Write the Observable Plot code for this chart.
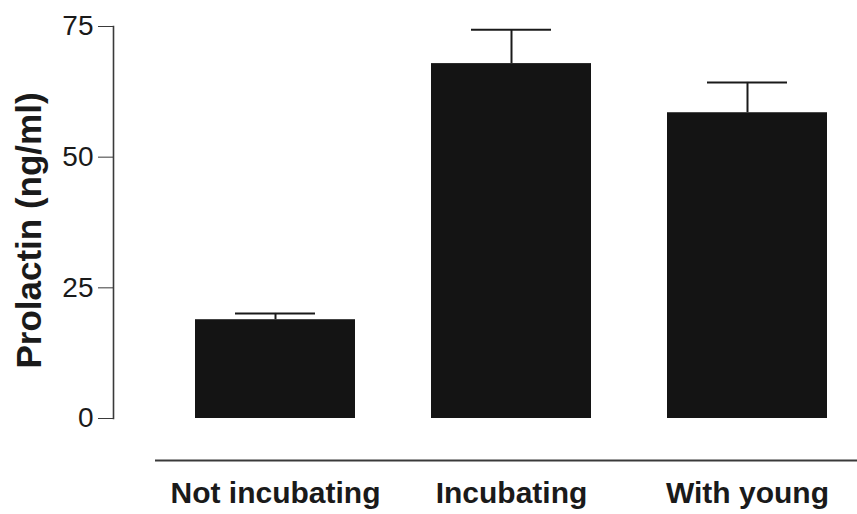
<!DOCTYPE html>
<html>
<head>
<meta charset="utf-8">
<script src="https://cdn.jsdelivr.net/npm/d3@7"></script>
<script src="https://cdn.jsdelivr.net/npm/@observablehq/plot@0.6"></script>
<style>
  html, body { margin: 0; padding: 0; background: #fff; }
  #chart svg { display: block; }
</style>
</head>
<body>
<div id="chart"></div>
<script>
// Plasma prolactin by breeding state (mean ± SEM)
const categories = ["Not incubating", "Incubating", "With young"];
const means = [18.9, 67.9, 58.5];
const sems = [1.2, 6.5, 5.8];
const yTicks = [0, 25, 50, 75];
const yLabel = "Prolactin (ng/ml)";

const rows = categories.map((group, i) => ({
  group,
  mean: means[i],
  upper: means[i] + sems[i]
}));

const font = "'Liberation Sans', Arial, Helvetica, sans-serif";
const ink = "#1a1a1a";
const axisInk = "#3a3a3a";

const chart = Plot.plot({
  width: 857,
  height: 514,
  marginLeft: 113,
  marginRight: 0,
  marginTop: 26,
  marginBottom: 96,
  style: { fontFamily: font, background: "#fff", color: ink },
  x: { domain: categories, range: [171, 852], paddingInner: 0.32, paddingOuter: 0.1 },
  y: { domain: [0, 75] },
  marks: [
    // y axis line
    Plot.frame({ anchor: "left", stroke: axisInk, strokeWidth: 1.6 }),
    Plot.axisY({
      ticks: yTicks,
      tickSize: 15,
      tickPadding: 5,
      fontSize: 28,
      stroke: axisInk,
      fill: ink,
      label: null
    }),
    Plot.text([yLabel], {
      frameAnchor: "left",
      textAnchor: "middle",
      rotate: -90,
      lineAnchor: "bottom",
      dx: -73,
      dy: 8,
      fontSize: 35,
      fontWeight: "bold",
      fill: ink
    }),
    // error bars (upper only)
    Plot.ruleX(rows, { x: "group", y1: "mean", y2: "upper", stroke: ink, strokeWidth: 2 }),
    Plot.tickY(rows, { x: "group", y: "upper", stroke: ink, strokeWidth: 2, insetLeft: 40, insetRight: 40 }),
    Plot.barY(rows, { x: "group", y: "mean", fill: "#141414" }),
    // baseline under the category labels
    Plot.ruleY([0], { dy: 42, insetLeft: 42, stroke: axisInk, strokeWidth: 2 }),
    Plot.axisX({
      tickSize: 0,
      tickPadding: 63,
      fontSize: 30,
      fontWeight: "bold",
      fill: ink,
      label: null
    })
  ]
});

document.getElementById("chart").appendChild(chart);
</script>
</body>
</html>
